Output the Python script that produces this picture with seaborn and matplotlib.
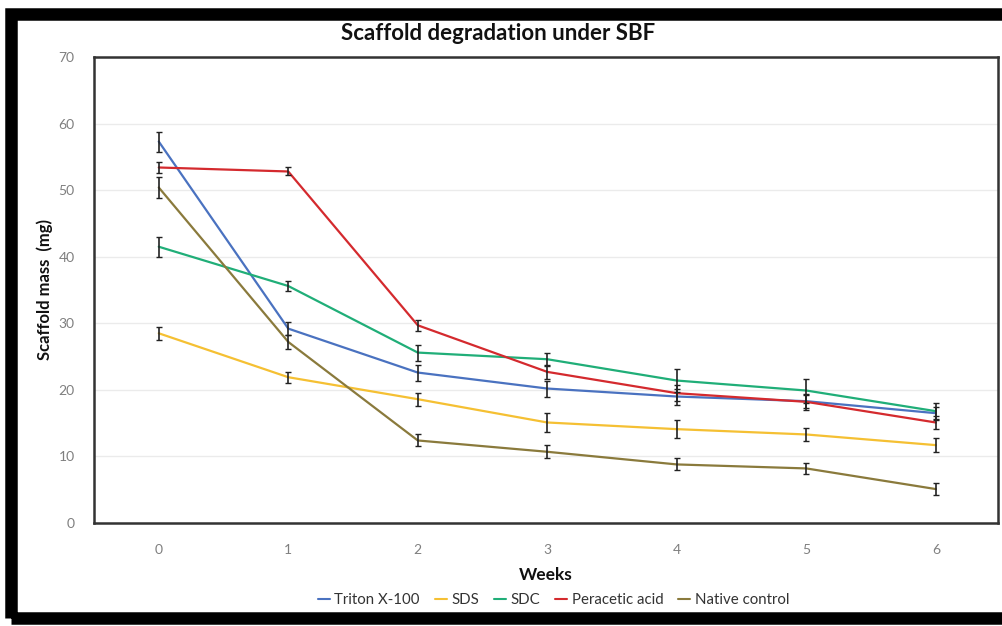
import numpy as np
import pandas as pd
import matplotlib
matplotlib.use("Agg")
import matplotlib.pyplot as plt
from matplotlib.patches import Rectangle
from matplotlib.lines import Line2D
import seaborn as sns

# Scaffold mass (mg) per week, mean and error
weeks = [0, 1, 2, 3, 4, 5, 6]
series_names = ["Triton X-100", "SDS", "SDC", "Peracetic acid", "Native control"]

triton_mass = [57.3, 29.2, 22.6, 20.2, 19.0, 18.3, 16.5]
sds_mass = [28.5, 21.9, 18.6, 15.1, 14.1, 13.3, 11.7]
sdc_mass = [41.5, 35.6, 25.6, 24.6, 21.4, 19.9, 16.8]
peracetic_mass = [53.4, 52.8, 29.7, 22.7, 19.5, 18.2, 15.1]
native_mass = [50.4, 27.2, 12.4, 10.7, 8.8, 8.2, 5.1]

triton_err = [1.5, 1.0, 1.2, 1.2, 1.2, 1.0, 1.0]
sds_err = [1.0, 0.8, 1.0, 1.5, 1.4, 1.0, 1.0]
sdc_err = [1.5, 0.8, 1.2, 1.0, 1.7, 1.8, 1.2]
peracetic_err = [0.8, 0.6, 0.8, 1.0, 1.2, 1.2, 1.0]
native_err = [1.6, 1.0, 0.9, 1.0, 0.9, 0.8, 0.9]

y_ticks = [0, 10, 20, 30, 40, 50, 60, 70]

colors = ["#4A72C0", "#F5C033", "#20AE78", "#D42A2E", "#8A7A3C"]

means = [triton_mass, sds_mass, sdc_mass, peracetic_mass, native_mass]
errs = [triton_err, sds_err, sdc_err, peracetic_err, native_err]

df = pd.DataFrame({
    "Weeks": np.tile(weeks, len(series_names)),
    "Mass": np.concatenate(means),
    "Err": np.concatenate(errs),
    "Treatment": np.repeat(series_names, len(weeks)),
})

sns.set_theme(style="white")
plt.rcParams["font.family"] = ["Lato", "DejaVu Sans"]

fig = plt.figure(figsize=(10.03, 6.26), dpi=100)
ax = fig.add_axes([0.0937, 0.1645, 0.9013, 0.7445])

sns.lineplot(data=df, x="Weeks", y="Mass", hue="Treatment", palette=colors,
             hue_order=series_names, errorbar=None, linewidth=1.6,
             legend=False, ax=ax, zorder=3)

for name in series_names:
    sub = df[df["Treatment"] == name]
    ax.errorbar(sub["Weeks"], sub["Mass"], yerr=sub["Err"], fmt="none",
                ecolor="#222222", elinewidth=1.2, capsize=2.5, capthick=1.0,
                zorder=4)

ax.set_xlim(-0.5, 6.48)
ax.set_ylim(0, 70)
ax.set_xticks(weeks)
ax.set_yticks(y_ticks)
ax.tick_params(axis="both", length=0, labelsize=10, labelcolor="#7F7F7F")
ax.tick_params(axis="x", pad=15)
ax.tick_params(axis="y", pad=14)
ax.yaxis.grid(True, color="#EBEBEB", linewidth=1.0)
ax.set_axisbelow(True)
for sp in ax.spines.values():
    sp.set_visible(True)
    sp.set_color("#333333")
    sp.set_linewidth(1.8)

ax.set_xlabel("Weeks", fontsize=12.5, fontweight="bold", color="#111111",
              labelpad=8)
ax.set_ylabel("Scaffold mass  (mg)", fontsize=12, fontweight="bold",
              color="#111111", labelpad=4)

fig.text(0.497, 0.946, "Scaffold degradation under SBF", ha="center",
         va="center", fontsize=16, fontweight="bold", color="#111111")

handles = [Line2D([0], [0], color=c, lw=1.5) for c in colors]
fig.legend(handles, series_names, loc="center", bbox_to_anchor=(0.552, 0.041),
           ncol=5, frameon=False, fontsize=10.8, handlelength=0.8,
           handletextpad=0.3, columnspacing=1.0, labelcolor="#333333")

# Black outer frame
fig.patches.append(Rectangle((0.011, 0.013), 1.2, 0.965,
                             transform=fig.transFigure, fill=False,
                             edgecolor="black", linewidth=9, zorder=10))

fig.savefig("out.png", dpi=100, facecolor="white")
